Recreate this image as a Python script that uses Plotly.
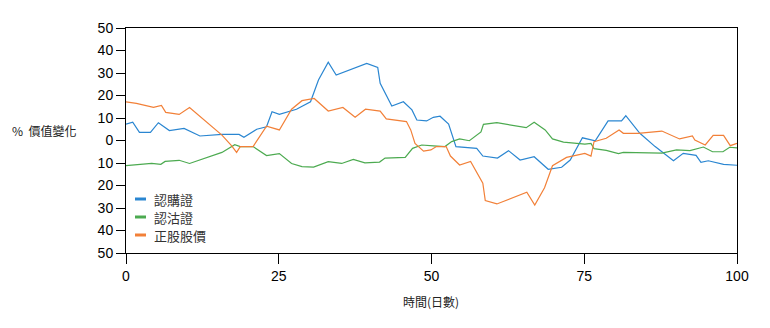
import plotly.graph_objects as go

# 認購證 (call warrant)
call_x = [0, 1.1, 2.2, 4.0, 5.3, 7.1, 9.5, 12.1, 15.7, 18.5, 19.3, 21.4, 23.0, 23.9, 25.1,
          27.9, 30.2, 31.5, 33.1, 34.4, 39.4, 41.2, 41.6, 43.5, 45.4, 46.8, 47.6, 49.2, 50.3,
          51.4, 52.8, 54.0, 57.4, 58.4, 60.8, 62.6, 64.5, 66.8, 69.1, 71.3, 72.7, 74.7, 76.8,
          78.9, 81.1, 81.8, 84.1, 86.6, 89.6, 91.2, 93.3, 94.1, 95.3, 97.8, 100]
call_y = [7.3, 8.1, 3.6, 3.6, 7.9, 4.4, 5.4, 2.0, 2.7, 2.7, 1.4, 5.0, 6.1, 12.8, 11.6,
          13.9, 17.2, 26.9, 34.8, 29.1, 34.3, 32.5, 25.4, 15.3, 17.2, 13.6, 9.1, 8.7, 10.3,
          10.8, 7.3, -2.7, -3.5, -6.9, -7.8, -4.5, -8.7, -7.2, -12.8, -11.9, -8.7, 1.2, -0.1,
          8.7, 8.7, 11.0, 3.2, -2.7, -9.0, -5.7, -6.6, -9.7, -9.0, -10.6, -11.0]

# 認沽證 (put warrant)
put_x = [0, 1.7, 4.2, 5.7, 6.4, 8.7, 10.4, 15.7, 17.8, 18.7, 20.8, 23.0, 25.1, 27.1, 28.8,
         30.7, 33.1, 35.3, 37.2, 39.1, 41.5, 42.4, 45.7, 46.9, 48.4, 50.3, 52.2, 53.3, 54.6,
         56.2, 58.1, 58.5, 60.7, 65.5, 66.8, 68.6, 69.8, 71.6, 73.8, 75.1, 76.1, 76.6, 78.6,
         80.6, 81.4, 87.7, 90.1, 92.3, 94.5, 96.0, 97.7, 98.8, 100]
put_y = [-11.2, -10.9, -10.2, -10.6, -9.3, -8.8, -10.2, -5.3, -1.9, -2.7, -2.7, -6.7, -5.8, -10.2, -11.6,
         -11.8, -9.4, -10.2, -8.4, -9.9, -9.6, -7.8, -7.5, -3.5, -2.0, -2.4, -2.7, -0.5, 0.7,
         -0.1, 3.8, 7.2, 7.9, 5.7, 8.1, 4.7, 0.7, -0.7, -1.3, -1.6, -1.3, -3.6, -4.4,
         -5.8, -5.3, -5.6, -4.2, -4.5, -2.9, -5.0, -5.0, -3.0, -3.3]

# 正股股價 (underlying stock price)
stock_x = [0, 1.7, 4.5, 5.8, 6.5, 8.7, 10.4, 15.7, 17.3, 18.1, 18.7, 20.8, 23.0, 25.1, 27.1,
           28.8, 30.8, 33.1, 35.5, 37.5, 39.2, 41.6, 42.6, 45.9, 46.6, 47.3, 48.7, 49.9, 50.8,
           52.4, 53.1, 54.6, 56.4, 58.4, 58.8, 60.7, 65.6, 66.9, 68.5, 69.8, 72.1, 75.1, 76.1,
           76.6, 78.6, 80.7, 81.4, 83.8, 87.7, 90.6, 92.7, 93.1, 94.8, 96.1, 97.8, 98.9, 100]
stock_y = [17.2, 16.5, 14.7, 15.6, 12.5, 11.6, 14.7, 2.4, -2.4, -5.3, -2.7, -2.7, 6.4, 4.7, 13.9,
           17.7, 18.7, 13.1, 14.7, 10.3, 13.9, 13.1, 9.6, 8.4, 4.7, -1.3, -4.7, -4.2, -2.7,
           -2.7, -6.9, -10.9, -9.3, -19.0, -26.7, -28.2, -23.0, -28.7, -21.0, -11.2, -7.5, -5.7, -6.9,
           -0.5, 1.0, 4.7, 3.2, 3.2, 4.2, 0.7, 2.0, 0.2, -2.0, 2.3, 2.3, -2.3, -1.3]

series_names = ["認購證", "認沽證", "正股股價"]
series_colors = ["#2a86d1", "#4caa50", "#f28038"]
y_ticks = [-50, -40, -30, -20, -10, 0, 10, 20, 30, 40, 50]
y_tick_text = [str(abs(v)) for v in y_ticks]
x_ticks = [0, 25, 50, 75, 100]

CJK = "Noto Sans CJK TC"
LAT = "Liberation Sans, Arial"

fig = go.Figure()
for xs, ys, name, col in zip([call_x, put_x, stock_x], [call_y, put_y, stock_y],
                             series_names, series_colors):
    fig.add_trace(go.Scatter(x=xs, y=ys, mode="lines", name=name,
                             line=dict(color=col, width=1.2), showlegend=False))

# manual legend (short swatches)
W, H = 611.0, 225.0
for i, (name, col) in enumerate(zip(series_names, series_colors)):
    py = 199 + i * 18
    yp = (253 - py) / H
    fig.add_shape(type="line", xref="paper", yref="paper",
                  x0=(135 - 126) / W, x1=(146 - 126) / W, y0=yp, y1=yp,
                  line=dict(color=col, width=3))
    fig.add_annotation(xref="paper", yref="paper", x=(152 - 126) / W, y=yp,
                       text=name, showarrow=False, xanchor="left", yanchor="middle",
                       font=dict(family=CJK, size=13, color="#333333"))

fig.add_annotation(xref="paper", yref="paper", x=(10 - 126) / W, y=(253 - 130) / H,
                   text="%  價值變化", showarrow=False, xanchor="left", yanchor="middle",
                   font=dict(family=CJK, size=12, color="#222222"))
fig.add_annotation(xref="paper", yref="paper", x=(431 - 126) / W, y=(253 - 301) / H,
                   text="時間(日數)", showarrow=False, xanchor="center", yanchor="middle",
                   font=dict(family=CJK, size=12, color="#222222"))

fig.update_layout(
    width=770, height=328,
    margin=dict(l=126, r=33, t=28, b=75),
    paper_bgcolor="white", plot_bgcolor="white",
    font=dict(family=LAT, size=14, color="black"),
)
fig.update_xaxes(range=[0, 100], tickvals=x_ticks, ticks="outside", ticklen=10,
                 tickcolor="black", showgrid=False, zeroline=False,
                 showline=True, linecolor="black", linewidth=1, mirror=True,
                 tickfont=dict(family=LAT, size=14))
fig.update_yaxes(range=[-50, 50], tickvals=y_ticks, ticktext=y_tick_text,
                 ticks="outside", ticklen=9, tickcolor="black", showgrid=False,
                 zeroline=False, showline=True, linecolor="black", linewidth=1,
                 mirror=True, tickfont=dict(family=LAT, size=14))

fig.write_html("out.html")
